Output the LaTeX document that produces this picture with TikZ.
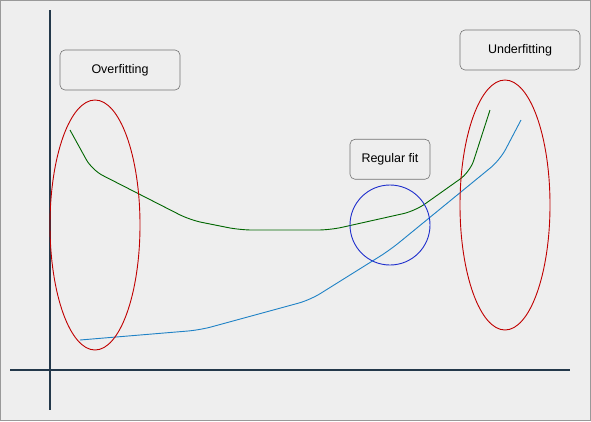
\documentclass[tikz,border=0pt]{standalone}
\usepackage{fontspec}
\setmainfont{Liberation Sans}
\usetikzlibrary{shapes.geometric,positioning}

\definecolor{pagebg}{HTML}{EEEEEE}
\definecolor{axiscol}{HTML}{23384A}
\definecolor{fitgreen}{HTML}{006600}
\definecolor{fitblue}{HTML}{1F82C6}
\definecolor{ringred}{HTML}{C00000}
\definecolor{ringblue}{HTML}{1F2FCC}

\begin{document}
\begin{tikzpicture}[x=1pt,y=-1pt,
    tag/.style={draw=gray!90!black, fill=pagebg, rounded corners=5pt, line width=0.6pt,
                minimum width=120pt, minimum height=40pt, inner sep=0pt,
                font=\fontsize{12.5}{15}\selectfont},
    ring/.style={ellipse, draw, line width=0.9pt, inner sep=0pt},
    axisline/.style={axiscol, line width=2pt},
    fitline/.style={line width=0.9pt, rounded corners=12pt}]
    \useasboundingbox (0,0) rectangle (591,421);
    \draw[gray!80, fill=pagebg, line width=1pt] (0.5,0.5) rectangle (590.5,420.5);

    % axes
    \coordinate (ytop) at (50,10);
    \coordinate (ybot) at (50,410);
    \coordinate (xleft) at (10,370);
    \coordinate (xright) at (570,370);
    \draw[axisline] (ytop) -- (ybot);
    \draw[axisline] (xleft) -- (xright);

    % training error
    \draw[fitline, fitgreen] (70,130) -- (92,170) -- (190,220) -- (240,230)
        -- (330,230) -- (415,211) -- (470,172) -- (490,110);
    % test error
    \draw[fitline, fitblue] (80,340) -- (200,330) -- (310,300) -- (390,250)
        -- (500,160) -- (521,120);

    % regions
    \node[ring, draw=ringred, minimum width=90pt, minimum height=250pt] (over) at (95,225) {};
    \node[ring, draw=ringred, minimum width=90pt, minimum height=250pt] (under) at (505,205) {};
    \node[ring, draw=ringblue, minimum width=80pt, minimum height=80pt] (regular) at (390,225) {};

    % labels
    \node[tag] (overtag) at (120,70) {Overfitting};
    \node[tag] (undertag) at (520,50) {Underfitting};
    \node[tag, minimum width=80pt] (regtag) [above=5pt of regular] {Regular fit};
\end{tikzpicture}
\end{document}
